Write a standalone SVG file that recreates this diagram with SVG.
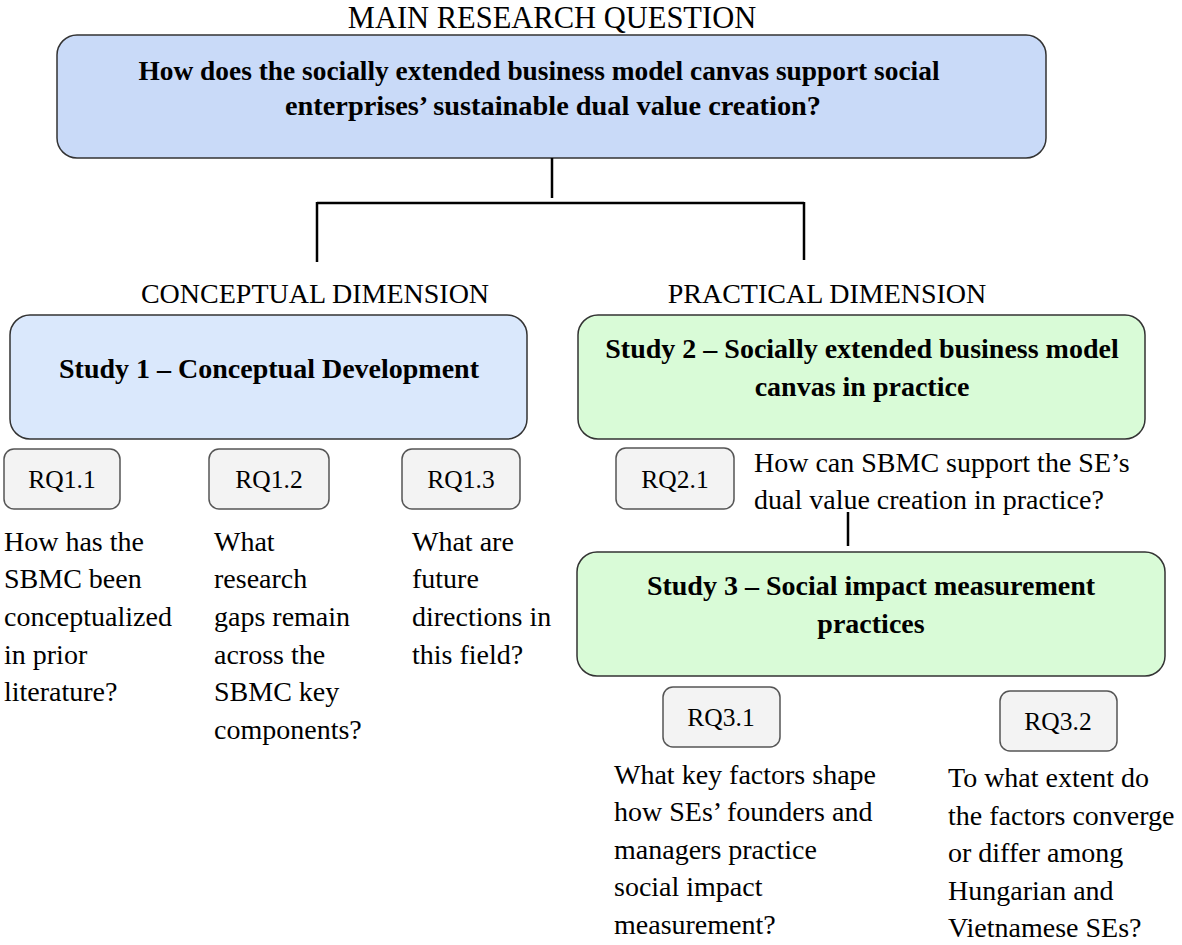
<svg xmlns="http://www.w3.org/2000/svg" width="1182" height="945" viewBox="0 0 1182 945">
<style>
text{font-family:"Liberation Serif","Times New Roman",serif;fill:#000}
.hd{font-size:28px}
.b{font-weight:bold;font-size:28px;text-anchor:middle}
.rq{font-size:25.5px;text-anchor:middle}
.q{font-size:28px}
.box{stroke:#333;stroke-width:1.5}
.main{fill:#c9daf8}
.s1{fill:#dae8fc}
.s2{fill:#d9fbd7}
.rqb{fill:#f3f3f3;stroke:#555;stroke-width:1.5}
.ln{stroke:#000;stroke-width:2.5;fill:none}
</style>
<rect width="1182" height="945" fill="#fff"/>
<text x="552" y="28" text-anchor="middle" font-size="30.5">MAIN RESEARCH QUESTION</text>
<g id="main">
<rect class="box main" x="57" y="35" width="989" height="123" rx="20"/>
<text class="b" x="539" y="80" textLength="801" lengthAdjust="spacingAndGlyphs">How does the socially extended business model canvas support social</text>
<text class="b" x="553" y="115" textLength="536" lengthAdjust="spacingAndGlyphs">enterprises’ sustainable dual value creation?</text>
</g>
<g id="connectors">
<path class="ln" d="M552 158V198M317 203H804M317 202V262M804 202V260M848 512V546"/>
</g>
<text class="hd" x="315" y="303" text-anchor="middle">CONCEPTUAL DIMENSION</text>
<text class="hd" x="827" y="303" text-anchor="middle">PRACTICAL DIMENSION</text>
<g id="study1">
<rect class="box s1" x="10" y="315" width="517" height="124" rx="20"/>
<text class="b" x="269" y="378">Study 1 – Conceptual Development</text>
</g>
<g id="study2">
<rect class="box s2" x="578" y="315" width="567" height="124" rx="20"/>
<text class="b" x="862" y="358">Study 2 – Socially extended business model</text>
<text class="b" x="862" y="396">canvas in practice</text>
</g>
<g id="rq11">
<rect class="rqb" x="4" y="449" width="116" height="60" rx="10"/>
<text class="rq" x="62" y="488">RQ1.1</text>
</g>
<g id="rq12">
<rect class="rqb" x="209" y="449" width="120" height="60" rx="10"/>
<text class="rq" x="269" y="488">RQ1.2</text>
</g>
<g id="rq13">
<rect class="rqb" x="402" y="449" width="118" height="60" rx="10"/>
<text class="rq" x="461" y="488">RQ1.3</text>
</g>
<g id="q11">
<text class="q" x="4" y="551">How has the</text>
<text class="q" x="4" y="588">SBMC been</text>
<text class="q" x="4" y="626">conceptualized</text>
<text class="q" x="4" y="664">in prior</text>
<text class="q" x="4" y="701">literature?</text>
</g>
<g id="q12">
<text class="q" x="214" y="551">What</text>
<text class="q" x="214" y="588">research</text>
<text class="q" x="214" y="626">gaps remain</text>
<text class="q" x="214" y="664">across the</text>
<text class="q" x="214" y="701">SBMC key</text>
<text class="q" x="214" y="739">components?</text>
</g>
<g id="q13">
<text class="q" x="412" y="551">What are</text>
<text class="q" x="412" y="588">future</text>
<text class="q" x="412" y="626">directions in</text>
<text class="q" x="412" y="664">this field?</text>
</g>
<g id="rq21">
<rect class="rqb" x="616" y="448" width="118" height="61" rx="10"/>
<text class="rq" x="675" y="488">RQ2.1</text>
</g>
<g id="q21">
<text class="q" x="754" y="472">How can SBMC support the SE’s</text>
<text class="q" x="754" y="509">dual value creation in practice?</text>
</g>
<g id="study3">
<rect class="box s2" x="577" y="552" width="588" height="124" rx="20"/>
<text class="b" x="871" y="595">Study 3 – Social impact measurement</text>
<text class="b" x="871" y="633">practices</text>
</g>
<g id="rq31">
<rect class="rqb" x="663" y="687" width="117" height="60" rx="10"/>
<text class="rq" x="721" y="726">RQ3.1</text>
</g>
<g id="rq32">
<rect class="rqb" x="1000" y="691" width="117" height="60" rx="10"/>
<text class="rq" x="1058" y="730">RQ3.2</text>
</g>
<g id="q31">
<text class="q" x="614" y="784">What key factors shape</text>
<text class="q" x="614" y="821">how SEs’ founders and</text>
<text class="q" x="614" y="859">managers practice</text>
<text class="q" x="614" y="896">social impact</text>
<text class="q" x="614" y="934">measurement?</text>
</g>
<g id="q32">
<text class="q" x="948" y="787">To what extent do</text>
<text class="q" x="948" y="825">the factors converge</text>
<text class="q" x="948" y="862">or differ among</text>
<text class="q" x="948" y="900">Hungarian and</text>
<text class="q" x="948" y="937">Vietnamese SEs?</text>
</g>
</svg>
